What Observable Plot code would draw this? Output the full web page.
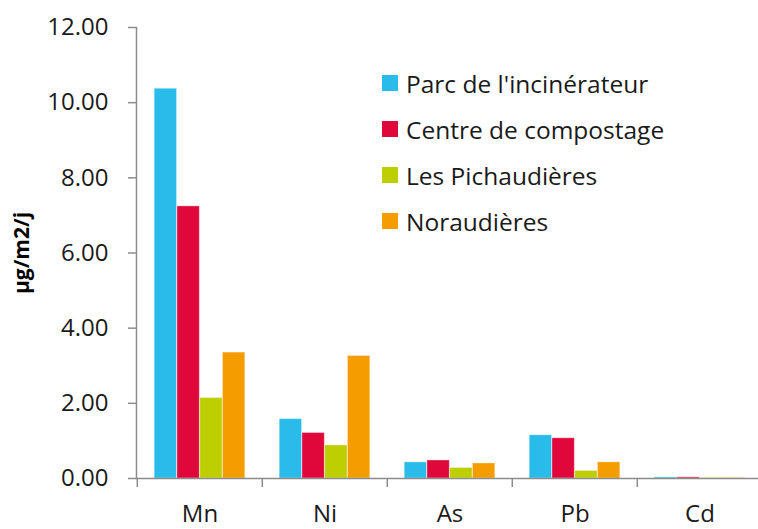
<!DOCTYPE html>
<html>
<head>
<meta charset="utf-8">
<script src="https://cdn.jsdelivr.net/npm/d3@7"></script>
<script src="https://cdn.jsdelivr.net/npm/@observablehq/plot@0.6"></script>
<style>
  html, body { margin: 0; padding: 0; background: #fff; overflow: hidden; }
  #chart { position: relative; width: 758px; height: 529px; font-family: "Open Sans", sans-serif; }
  #legend { position: absolute; left: 382px; top: 60px; }
  .item { display: flex; align-items: center; height: 46px; font-size: 24.5px; color: #1a1a1a; }
  .swatch { width: 16px; height: 16px; margin-right: 8px; }
</style>
</head>
<body>
<div id="chart"><div id="legend"></div></div>
<script>
// Dépôts atmosphériques de métaux par site (µg/m2/j)
const metals = ["Mn", "Ni", "As", "Pb", "Cd"];
const sites = ["Parc de l'incinérateur", "Centre de compostage", "Les Pichaudières", "Noraudières"];
const colors = ["#29BBE9", "#E0073B", "#BDCF00", "#F59C00"];
const parcIncinerateur = [10.37, 1.58, 0.43, 1.15, 0.03];
const centreCompostage = [7.24, 1.21, 0.48, 1.07, 0.03];
const pichaudieres = [2.14, 0.88, 0.28, 0.20, 0.01];
const noraudieres = [3.35, 3.26, 0.40, 0.43, 0.01];
const yTicks = [0, 2, 4, 6, 8, 10, 12];

const series = [parcIncinerateur, centreCompostage, pichaudieres, noraudieres];
const rows = sites.map((site, j) => metals.map((metal, i) => ({metal, site, value: series[j][i]})));

const width = 758, height = 529;
const marginLeft = 136, marginRight = -5, marginTop = 27, marginBottom = 51;
const band = (width - marginLeft - marginRight) / metals.length;
const barW = 22.75;
const inset = (band - barW) / 2;
const axisGray = "#8c8c8c";

const bars = rows.map((data, j) => Plot.barY(data, {
  x: "metal", y: "value", fill: colors[j],
  insetLeft: inset, insetRight: inset,
  dx: (j - 1.5) * barW,
  stroke: "#ffffff", strokeOpacity: 0.35, strokeWidth: 1
}));

const plot = Plot.plot({
  width, height, marginLeft, marginRight, marginTop, marginBottom,
  style: {fontFamily: "Open Sans, sans-serif", background: "transparent", overflow: "visible"},
  x: {domain: metals, padding: 0, label: null},
  y: {domain: [0, 12], label: null},
  marks: [
    ...bars,
    Plot.frame({anchor: "left", stroke: axisGray, strokeWidth: 1.5}),
    Plot.frame({anchor: "bottom", stroke: axisGray, strokeWidth: 1.5}),
    Plot.axisY({ticks: yTicks, tickFormat: d => d.toFixed(2), tickSize: 8, tickPadding: 20,
      fontSize: 24, stroke: axisGray, strokeWidth: 1.5, fill: "#1a1a1a", label: null}),
    Plot.axisX({tickSize: 9, tickFormat: () => "", dx: -band / 2, stroke: axisGray, strokeWidth: 1.5, label: null}),
    Plot.axisX({tickSize: 0, tickPadding: 26, fontSize: 24, fill: "#1a1a1a", label: null}),
    Plot.text(["µg/m2/j"], {frameAnchor: "left", textAnchor: "middle", rotate: -90, dx: -114,
      fontSize: 21, fontWeight: "bold", fill: "#000"})
  ]
});
document.getElementById("chart").prepend(plot);

const legend = document.getElementById("legend");
sites.forEach((s, j) => {
  const item = document.createElement("div");
  item.className = "item";
  item.innerHTML = `<span class="swatch" style="background:${colors[j]}"></span><span></span>`;
  item.lastChild.textContent = s;
  legend.appendChild(item);
});
</script>
</body>
</html>
